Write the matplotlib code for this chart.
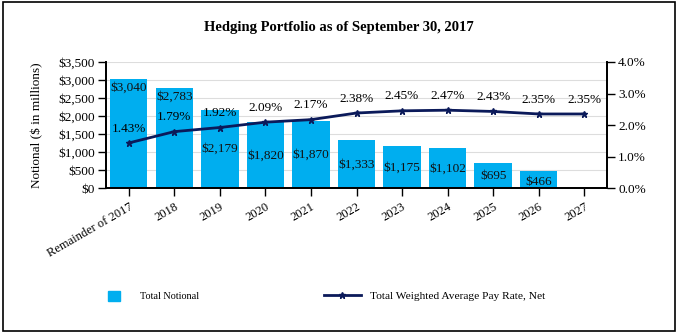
import numpy as np
import matplotlib.pyplot as plt
from matplotlib.patches import Rectangle
from matplotlib.lines import Line2D
from matplotlib.ticker import FuncFormatter

plt.rcParams['font.family'] = ['Liberation Serif', 'DejaVu Serif']

# dados
anos = ['Remainder of 2017', '2018', '2019', '2020', '2021', '2022',
        '2023', '2024', '2025', '2026', '2027']
nocional = [3040, 2783, 2179, 1820, 1870, 1333, 1175, 1102, 695, 466, 0]
taxa = [1.43, 1.79, 1.92, 2.09, 2.17, 2.38, 2.45, 2.47, 2.43, 2.35, 2.35]
# altura dos rotulos das barras (em $ milhoes)
rotulo_y = [2780, 2530, 1080, 890, 920, 640, 550, 530, 330, 170]

azul = '#00AEEF'
marinho = '#0B1A5A'

fig = plt.figure(figsize=(6.78, 3.33), dpi=100)
ax = fig.add_axes([106/678, 1-188/333, (607-106)/678, (188-62)/333])
ax2 = ax.twinx()

x = np.arange(len(anos))
ax.bar(x[:-1], nocional[:-1], width=0.82, color=azul, zorder=2)
for i in range(len(rotulo_y)):
    ax.text(x[i], rotulo_y[i], '${:,}'.format(nocional[i]), ha='center', va='center',
            fontsize=9.5, color='#111111', zorder=3)

ax.set_xlim(-0.5, 10.5)
ax.set_ylim(0, 3500)
ax.set_yticks(np.arange(0, 3501, 500))
ax.yaxis.set_major_formatter(FuncFormatter(lambda v, p: '${:,.0f}'.format(v)))
ax.grid(axis='y', color='#dddddd', linewidth=0.8, zorder=0)
ax.set_axisbelow(True)
ax.set_xticks(x)
ax.set_xticklabels(anos, rotation=30, ha='right', rotation_mode='anchor', fontsize=9)
ax.tick_params(axis='y', labelsize=9.5, length=6, width=1, pad=2)
ax.tick_params(axis='x', length=6, width=1, pad=3)
ax.set_ylabel('Notional ($ in millions)', fontsize=9.5)
ax.yaxis.set_label_coords(-0.125, 0.5)

ax2.plot(x, taxa, color=marinho, linewidth=2, marker='*', markersize=5, zorder=4)
for i in range(len(taxa)):
    ax2.annotate('{:.2f}%'.format(taxa[i]), (x[i], taxa[i]), xytext=(0, 6),
                 textcoords='offset points', ha='center', va='bottom', fontsize=9.5)
ax2.set_ylim(0, 4)
ax2.set_yticks(np.arange(0, 4.01, 1))
ax2.yaxis.set_major_formatter(FuncFormatter(lambda v, p: '{:.1f}%'.format(v)))
ax2.tick_params(axis='y', labelsize=9.5, length=6, width=1, pad=2)

for a in (ax, ax2):
    a.spines['top'].set_visible(False)
    for s in ('left', 'right', 'bottom'):
        a.spines[s].set_linewidth(1.3)

fig.text(0.5, 1-28/333, 'Hedging Portfolio as of September 30, 2017', ha='center',
         va='center', fontsize=10.5, fontweight='bold')

# legenda
fig.legend(handles=[Rectangle((0, 0), 1, 1, color=azul)], labels=['Total Notional'],
           loc='center left', bbox_to_anchor=(99/678, 1-296/333), frameon=False,
           fontsize=7.3, handlelength=1.2, handleheight=1.2, handletextpad=1.9)
fig.legend(handles=[Line2D([], [], color=marinho, linewidth=2, marker='*', markersize=5)],
           labels=['Total Weighted Average Pay Rate, Net'],
           loc='center left', bbox_to_anchor=(314/678, 1-296/333), frameon=False,
           fontsize=8.2, handlelength=3.2, handletextpad=0.8)

fig.patches.append(Rectangle((0.004, 0.006), 0.992, 0.988, transform=fig.transFigure,
                             fill=False, edgecolor='black', linewidth=1.2))

fig.savefig('out.png', dpi=100)
